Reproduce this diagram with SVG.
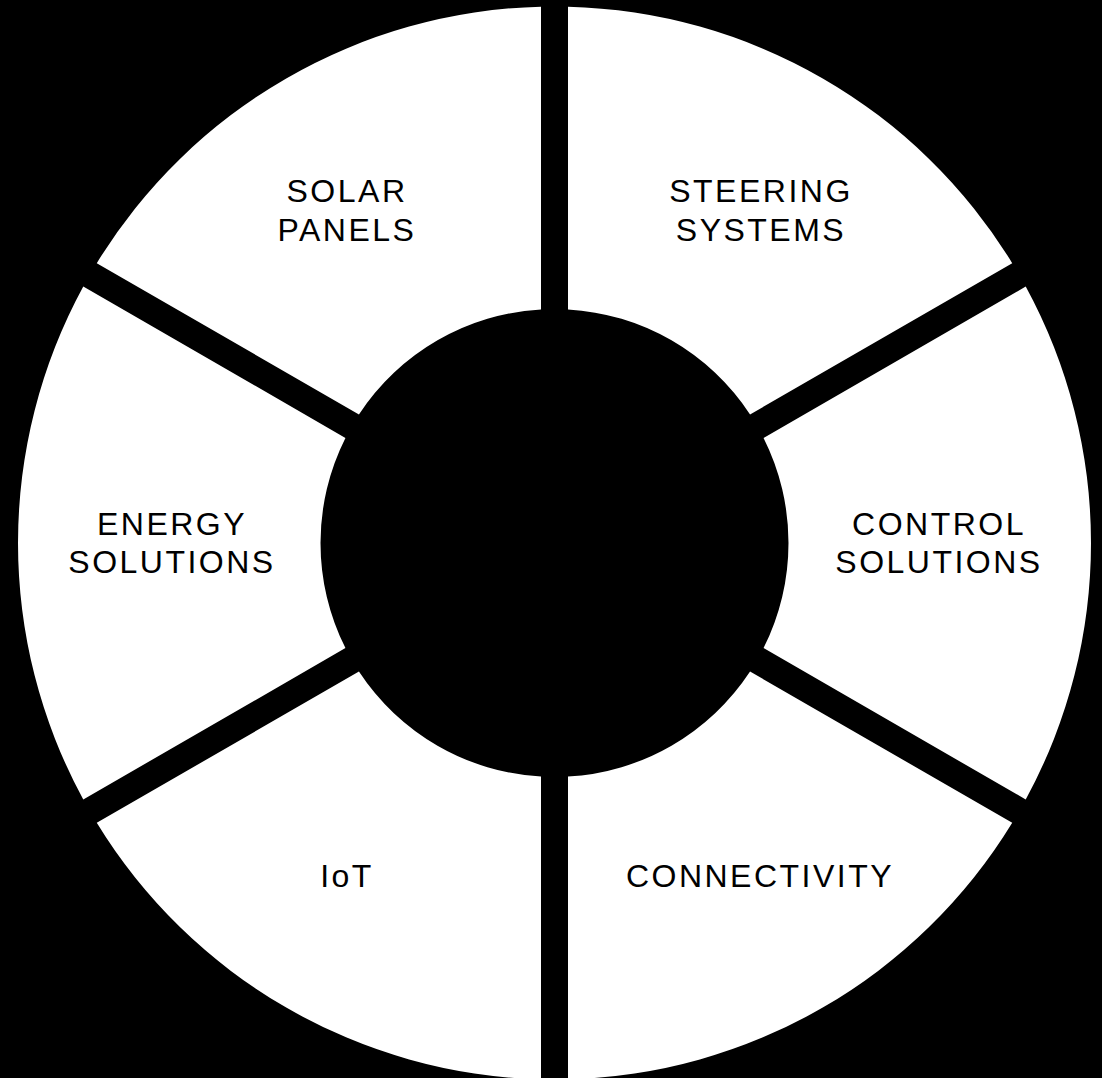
<svg xmlns="http://www.w3.org/2000/svg" width="1102" height="1078" viewBox="0 0 1102 1078">
<style>
.seg{fill:#ffffff;stroke:none}
.lbl{font-family:"Liberation Sans",Arial,sans-serif;font-size:32px;letter-spacing:2.5px;fill:#000000;text-anchor:middle}
</style>
<rect x="0" y="0" width="1102" height="1078" fill="#000000"/>
<g id="steering-systems">
<path class="seg" d="M568,6.67 A536.5,536.5 0 0 1 1012.23,263.15 L750.06,414.5 A234,234 0 0 0 568,309.39 Z"/>
<text class="lbl" x="761" y="202">STEERING</text>
<text class="lbl" x="761" y="241">SYSTEMS</text>
</g>
<g id="control-solutions">
<path class="seg" d="M1025.72,286.53 A536.5,536.5 0 0 1 1025.72,799.47 L763.56,648.11 A234,234 0 0 0 763.56,437.89 Z"/>
<text class="lbl" x="939" y="535">CONTROL</text>
<text class="lbl" x="939" y="573">SOLUTIONS</text>
</g>
<g id="connectivity">
<path class="seg" d="M1012.23,822.85 A536.5,536.5 0 0 1 568,1079.33 L568,776.61 A234,234 0 0 0 750.06,671.5 Z"/>
<text class="lbl" x="760" y="887">CONNECTIVITY</text>
</g>
<g id="iot">
<path class="seg" d="M541,1079.33 A536.5,536.5 0 0 1 96.77,822.85 L358.94,671.5 A234,234 0 0 0 541,776.61 Z"/>
<text class="lbl" x="347" y="887">IoT</text>
</g>
<g id="energy-solutions">
<path class="seg" d="M83.28,799.47 A536.5,536.5 0 0 1 83.28,286.53 L345.44,437.89 A234,234 0 0 0 345.44,648.11 Z"/>
<text class="lbl" x="172" y="535">ENERGY</text>
<text class="lbl" x="172" y="573">SOLUTIONS</text>
</g>
<g id="solar-panels">
<path class="seg" d="M96.77,263.15 A536.5,536.5 0 0 1 541,6.67 L541,309.39 A234,234 0 0 0 358.94,414.5 Z"/>
<text class="lbl" x="347" y="202">SOLAR</text>
<text class="lbl" x="347" y="241">PANELS</text>
</g>
<g id="connectors"></g>
</svg>
